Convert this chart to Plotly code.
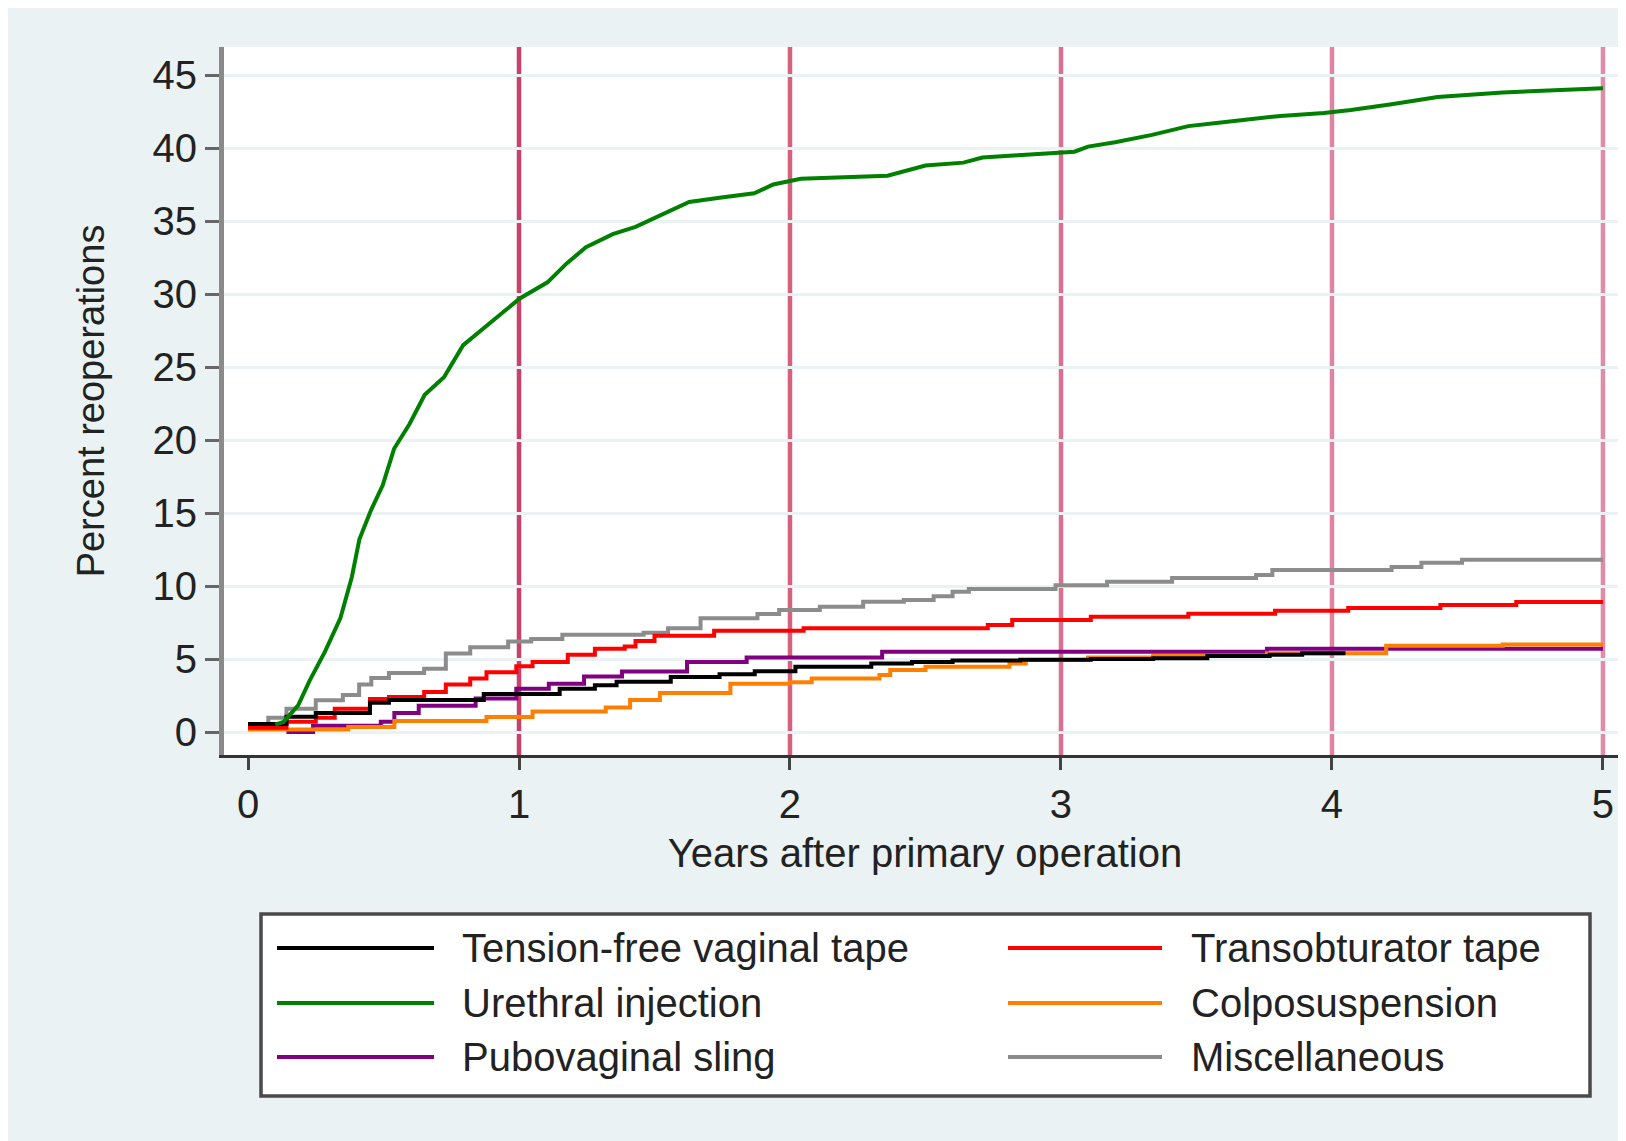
import plotly.graph_objects as go

# ---------------- data ----------------
series_names = [
    "Tension-free vaginal tape",
    "Transobturator tape",
    "Urethral injection",
    "Colposuspension",
    "Pubovaginal sling",
    "Miscellaneous",
]

tvt_x = [0, 0.142, 0.25, 0.45, 0.52, 0.87, 1.15, 1.28, 1.36, 1.56, 1.74, 1.87, 2.02,
         2.3, 2.45, 2.6, 2.85, 3.11, 3.34, 3.54, 3.77, 3.89, 4.05]
tvt_y = [0.55, 1.04, 1.3, 2.0, 2.2, 2.6, 2.97, 3.2, 3.45, 3.76, 3.96, 4.16, 4.47,
         4.7, 4.8, 4.9, 4.95, 5.0, 5.05, 5.2, 5.3, 5.4, 5.4]

tot_x = [0, 0.142, 0.25, 0.32, 0.45, 0.52, 0.65, 0.73, 0.82, 0.88, 0.99, 1.05, 1.18,
         1.28, 1.39, 1.43, 1.5, 1.72, 2.05, 2.73, 2.82, 3.11, 3.47, 3.79, 4.06, 4.4,
         4.68, 5.0]
tot_y = [0.3, 0.7, 0.98, 1.6, 2.26, 2.4, 2.74, 3.25, 3.67, 4.1, 4.5, 4.8, 5.3,
         5.7, 5.86, 6.23, 6.6, 6.94, 7.1, 7.33, 7.67, 7.9, 8.1, 8.3, 8.5, 8.7,
         8.9, 8.9]

ui_x = [0.1, 0.131, 0.185, 0.227, 0.284, 0.341, 0.383, 0.411, 0.454, 0.497, 0.539,
        0.596, 0.652, 0.723, 0.794, 0.878, 1.003, 1.105, 1.176, 1.247, 1.346, 1.43,
        1.515, 1.628, 1.74, 1.868, 1.938, 2.04, 2.36, 2.44, 2.5, 2.64, 2.71, 2.84,
        3.05, 3.1, 3.2, 3.336, 3.47, 3.59, 3.81, 3.97, 4.07, 4.22, 4.39, 4.63, 4.95,
        5.0]
ui_y = [0.5, 0.69, 1.83, 3.5, 5.5, 7.8, 10.6, 13.2, 15.2, 16.9, 19.4,
        21.1, 23.1, 24.3, 26.5, 27.8, 29.7, 30.8, 32.1, 33.2, 34.1, 34.6,
        35.3, 36.3, 36.6, 36.9, 37.5, 37.9, 38.1, 38.5, 38.8, 39.0, 39.35, 39.5,
        39.75, 40.1, 40.4, 40.9, 41.5, 41.75, 42.2, 42.4, 42.6, 43.0, 43.5, 43.8, 44.1,
        44.1]

colpo_x = [0, 0.37, 0.54, 0.88, 1.05, 1.32, 1.41, 1.52, 1.78, 2.0, 2.08, 2.33, 2.37,
           2.5, 2.81, 2.87, 3.1, 3.34, 3.76, 4.2, 4.63, 5.0]
colpo_y = [0.18, 0.35, 0.75, 1.03, 1.4, 1.67, 2.2, 2.67, 3.3, 3.4, 3.67, 3.9, 4.25,
           4.47, 4.7, 4.93, 5.1, 5.2, 5.4, 5.9, 6.0, 6.0]

pvs_x = [0.142, 0.24, 0.49, 0.54, 0.63, 0.84, 0.99, 1.11, 1.24, 1.38, 1.62, 1.84,
         2.34, 3.76, 5.0]
pvs_y = [0.0, 0.42, 0.7, 1.3, 1.8, 2.3, 2.96, 3.3, 3.8, 4.15, 4.8, 5.1,
         5.5, 5.7, 5.7]

misc_x = [0, 0.075, 0.142, 0.25, 0.35, 0.41, 0.455, 0.52, 0.65, 0.73, 0.82, 0.96,
          1.045, 1.16, 1.46, 1.55, 1.67, 1.88, 1.96, 2.11, 2.27, 2.42, 2.53, 2.6,
          2.66, 2.98, 3.17, 3.41, 3.72, 3.78, 4.22, 4.33, 4.48, 5.0]
misc_y = [0.55, 0.98, 1.6, 2.17, 2.53, 3.25, 3.7, 4.04, 4.33, 5.38, 5.8, 6.2,
          6.37, 6.66, 6.8, 7.1, 7.8, 8.08, 8.36, 8.58, 8.92, 9.04, 9.3, 9.6,
          9.8, 10.05, 10.3, 10.55, 10.75, 11.1, 11.3, 11.6, 11.8, 11.8]

x_ticks = [0, 1, 2, 3, 4, 5]
y_ticks = [0, 5, 10, 15, 20, 25, 30, 35, 40, 45]
ref_years = [1, 2, 3, 4, 5]

x_title = "Years after primary operation"
y_title = "Percent reoperations"

# ---------------- styles ----------------
series_x = [tvt_x, tot_x, ui_x, colpo_x, pvs_x, misc_x]
series_y = [tvt_y, tot_y, ui_y, colpo_y, pvs_y, misc_y]
series_colors = ["#000000", "#FF0000", "#008000", "#FF8000", "#800080", "#8C8C8C"]
series_shapes = ["hv", "hv", "linear", "hv", "hv", "hv"]
ref_colors = ["#C9416B", "#D5607F", "#DA7090", "#DE84A0", "#E08CA6"]

FONT = "Liberation Sans, Arial, sans-serif"
TXT = "#222222"
BG = "#EAF2F3"
OFF = 8                      # page offset of the figure (body margin)
W, H = 1626, 1141            # figure overflows the window slightly so the background fills it
# plot area in page pixels
P_L, P_R, P_T, P_B = 224, 1626, 47, 755
ML, MT = P_L - OFF, P_T - OFF
MR = W - (P_R - OFF)
MB = H - (P_B - OFF)
PW, PH = P_R - P_L, P_B - P_T


def px(xp):
    return (xp - P_L) / PW


def py(yp):
    return (P_B - yp) / PH


fig = go.Figure()
draw_order = [5, 4, 3, 1, 0, 2]
for i in draw_order:
    fig.add_trace(go.Scatter(
        x=series_x[i], y=series_y[i], mode="lines", name=series_names[i],
        line=dict(color=series_colors[i], width=4, shape=series_shapes[i]),
        showlegend=False,
    ))

shapes = []
# vertical reference lines
for yr, c in zip(ref_years, ref_colors):
    shapes.append(dict(type="line", xref="x", yref="paper", x0=yr, x1=yr, y0=0, y1=1,
                       line=dict(color=c, width=4.5), layer="below"))
# legend box
shapes.append(dict(type="rect", xref="paper", yref="paper", x0=px(261), x1=px(1590),
                   y0=py(1096), y1=py(914), fillcolor="white",
                   line=dict(color="#4a4a4a", width=3.5), layer="above"))

annotations = []
legend_pos = [(0, 0), (1, 0), (0, 1), (1, 1), (0, 2), (1, 2)]
col_line = [(277, 434), (1008, 1162)]
col_text = [460, 1189]
row_y = [948, 1003, 1057]
for i, (c, r) in enumerate(legend_pos):
    shapes.append(dict(type="line", xref="paper", yref="paper",
                       x0=px(col_line[c][0]), x1=px(col_line[c][1]),
                       y0=py(row_y[r]), y1=py(row_y[r]),
                       line=dict(color=series_colors[i], width=4), layer="above"))
    annotations.append(dict(xref="paper", yref="paper", x=px(col_text[c]), y=py(row_y[r]),
                            text=series_names[i], showarrow=False, xanchor="left",
                            yanchor="middle", font=dict(family=FONT, size=40, color=TXT)))

fig.update_layout(
    width=W, height=H,
    margin=dict(l=ML, r=MR, t=MT, b=MB, pad=0),
    paper_bgcolor=BG, plot_bgcolor="white",
    font=dict(family=FONT, size=40, color=TXT),
    shapes=shapes, annotations=annotations,
    showlegend=False,
    xaxis=dict(
        range=[-0.0886, 5.085], tickvals=x_ticks, ticktext=[str(v) for v in x_ticks],
        ticks="outside", ticklen=12, tickwidth=3, tickcolor="#444444",
        showline=True, linecolor="#333333", linewidth=3,
        showgrid=False, zeroline=False,
        tickfont=dict(family=FONT, size=40, color=TXT),
        title=dict(text=x_title, font=dict(family=FONT, size=40, color=TXT), standoff=14),
    ),
    yaxis=dict(
        range=[-1.575, 46.92], tickvals=y_ticks, ticktext=[str(v) for v in y_ticks],
        ticks="outside", ticklen=14, tickwidth=3, tickcolor="#666666",
        showline=True, linecolor="#8A8A8A", linewidth=5,
        showgrid=True, gridcolor=BG, gridwidth=3, zeroline=False,
        tickfont=dict(family=FONT, size=40, color=TXT),
        title=dict(text=y_title, font=dict(family=FONT, size=38, color=TXT), standoff=38),
    ),
)

fig.write_html("out.html")
